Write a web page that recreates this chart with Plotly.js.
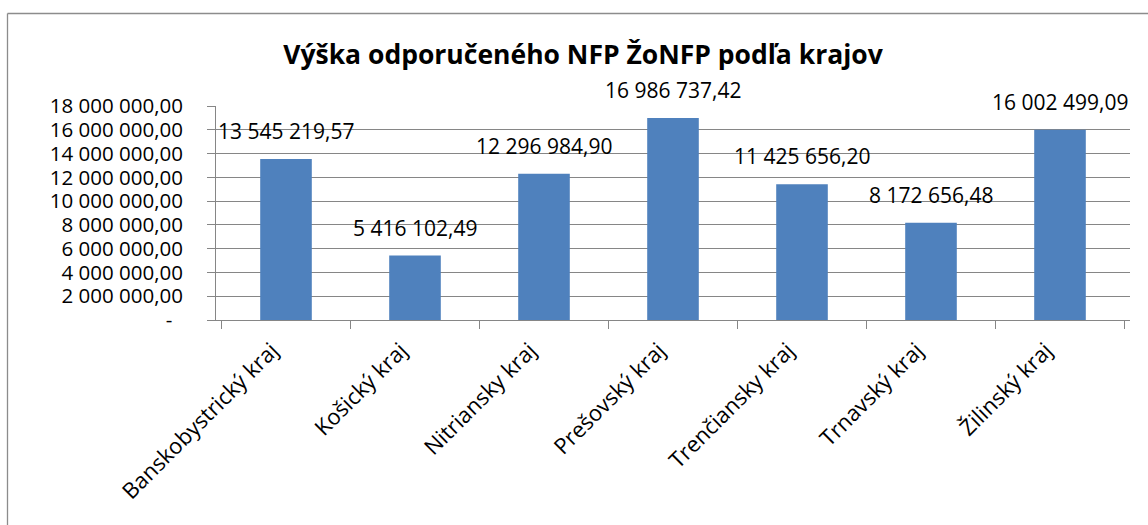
<!DOCTYPE html>
<html>
<head>
<meta charset="utf-8">
<script src="https://cdn.plot.ly/plotly-3.0.1.min.js"></script>
<style>
  html, body { margin: 0; padding: 0; background: #ffffff; }
  #chart { width: 1148px; height: 525px; }
</style>
</head>
<body>
<div id="chart"></div>
<script>
var categories = [
  "Banskobystrický kraj",
  "Košický kraj",
  "Nitriansky kraj",
  "Prešovský kraj",
  "Trenčiansky kraj",
  "Trnavský kraj",
  "Žilinský kraj"
];
var values = [13545219.57, 5416102.49, 12296984.90, 16986737.42, 11425656.20, 8172656.48, 16002499.09];
var yTickVals = [0, 2000000, 4000000, 6000000, 8000000, 10000000, 12000000, 14000000, 16000000, 18000000];
var yTickText = ["-\u00a0\u00a0", "2 000 000,00", "4 000 000,00", "6 000 000,00", "8 000 000,00",
                 "10 000 000,00", "12 000 000,00", "14 000 000,00", "16 000 000,00", "18 000 000,00"];
var chartTitle = "Výška odporučeného NFP ŽoNFP podľa krajov";

function fmt(v) {
  var parts = v.toFixed(2).split(".");
  var intPart = parts[0].replace(/\B(?=(\d{3})+(?!\d))/g, " ");
  return intPart + "," + parts[1];
}

var FONT = "Open Sans, Liberation Sans, Arial, sans-serif";
var GRID = "#868686";

var annotations = categories.map(function (c, i) {
  return {
    x: c, y: values[i], xref: "x", yref: "y",
    text: fmt(values[i]),
    showarrow: false,
    yanchor: "middle",
    yshift: 28,
    font: { family: FONT, size: 21, color: "#000000" }
  };
});

var trace = {
  type: "bar",
  x: categories,
  y: values,
  marker: { color: "#4F81BD", line: { width: 0 } },
  hoverinfo: "x+y"
};

var L = 216, R = 18, T = 106, B = 205, W = 1148, H = 525;
var pw = W - L - R, ph = H - T - B;
function px2x(px) { return (px - L) / pw; }
function py2y(py) { return (H - B - py) / ph; }

var shapes = [
  { type: "line", xref: "paper", yref: "paper",
    x0: px2x(7.5), x1: px2x(1160), y0: py2y(13.5), y1: py2y(13.5),
    line: { color: "#8c8c8c", width: 1.3 }, layer: "below" },
  { type: "line", xref: "paper", yref: "paper",
    x0: px2x(7.5), x1: px2x(7.5), y0: py2y(13.5), y1: py2y(540),
    line: { color: "#8c8c8c", width: 1.3 }, layer: "below" }
];

var layout = {
  width: W, height: H,
  margin: { l: L, r: R, t: T, b: B, pad: 0 },
  paper_bgcolor: "#ffffff",
  plot_bgcolor: "#ffffff",
  showlegend: false,
  bargap: 0.6,
  title: {
    text: "<b>" + chartTitle + "</b>",
    xref: "container", yref: "container",
    x: 583 / W, y: 1 - 55 / H,
    xanchor: "center", yanchor: "middle",
    font: { family: FONT, size: 26.5, color: "#000000" }
  },
  xaxis: {
    type: "category",
    tickangle: -45,
    tickson: "boundaries",
    ticks: "outside", ticklen: 8, tickcolor: GRID, tickwidth: 1,
    ticklabelshift: -14,
    ticklabelstandoff: 8,
    showline: true, linecolor: GRID, linewidth: 1,
    showgrid: false,
    tickfont: { family: FONT, size: 22, color: "#000000" },
    automargin: false
  },
  yaxis: {
    range: [0, 18000000],
    tickmode: "array",
    tickvals: yTickVals,
    ticktext: yTickText,
    ticks: "outside", ticklen: 8, tickcolor: GRID, tickwidth: 1,
    ticklabelstandoff: 20,
    showline: true, linecolor: GRID, linewidth: 1,
    showgrid: true, gridcolor: GRID, gridwidth: 1,
    zeroline: false,
    tickfont: { family: FONT, size: 20.5, color: "#000000" },
    automargin: false,
    fixedrange: true
  },
  annotations: annotations,
  shapes: shapes
};

Plotly.newPlot("chart", [trace], layout, { displayModeBar: false, responsive: false });
</script>
</body>
</html>
